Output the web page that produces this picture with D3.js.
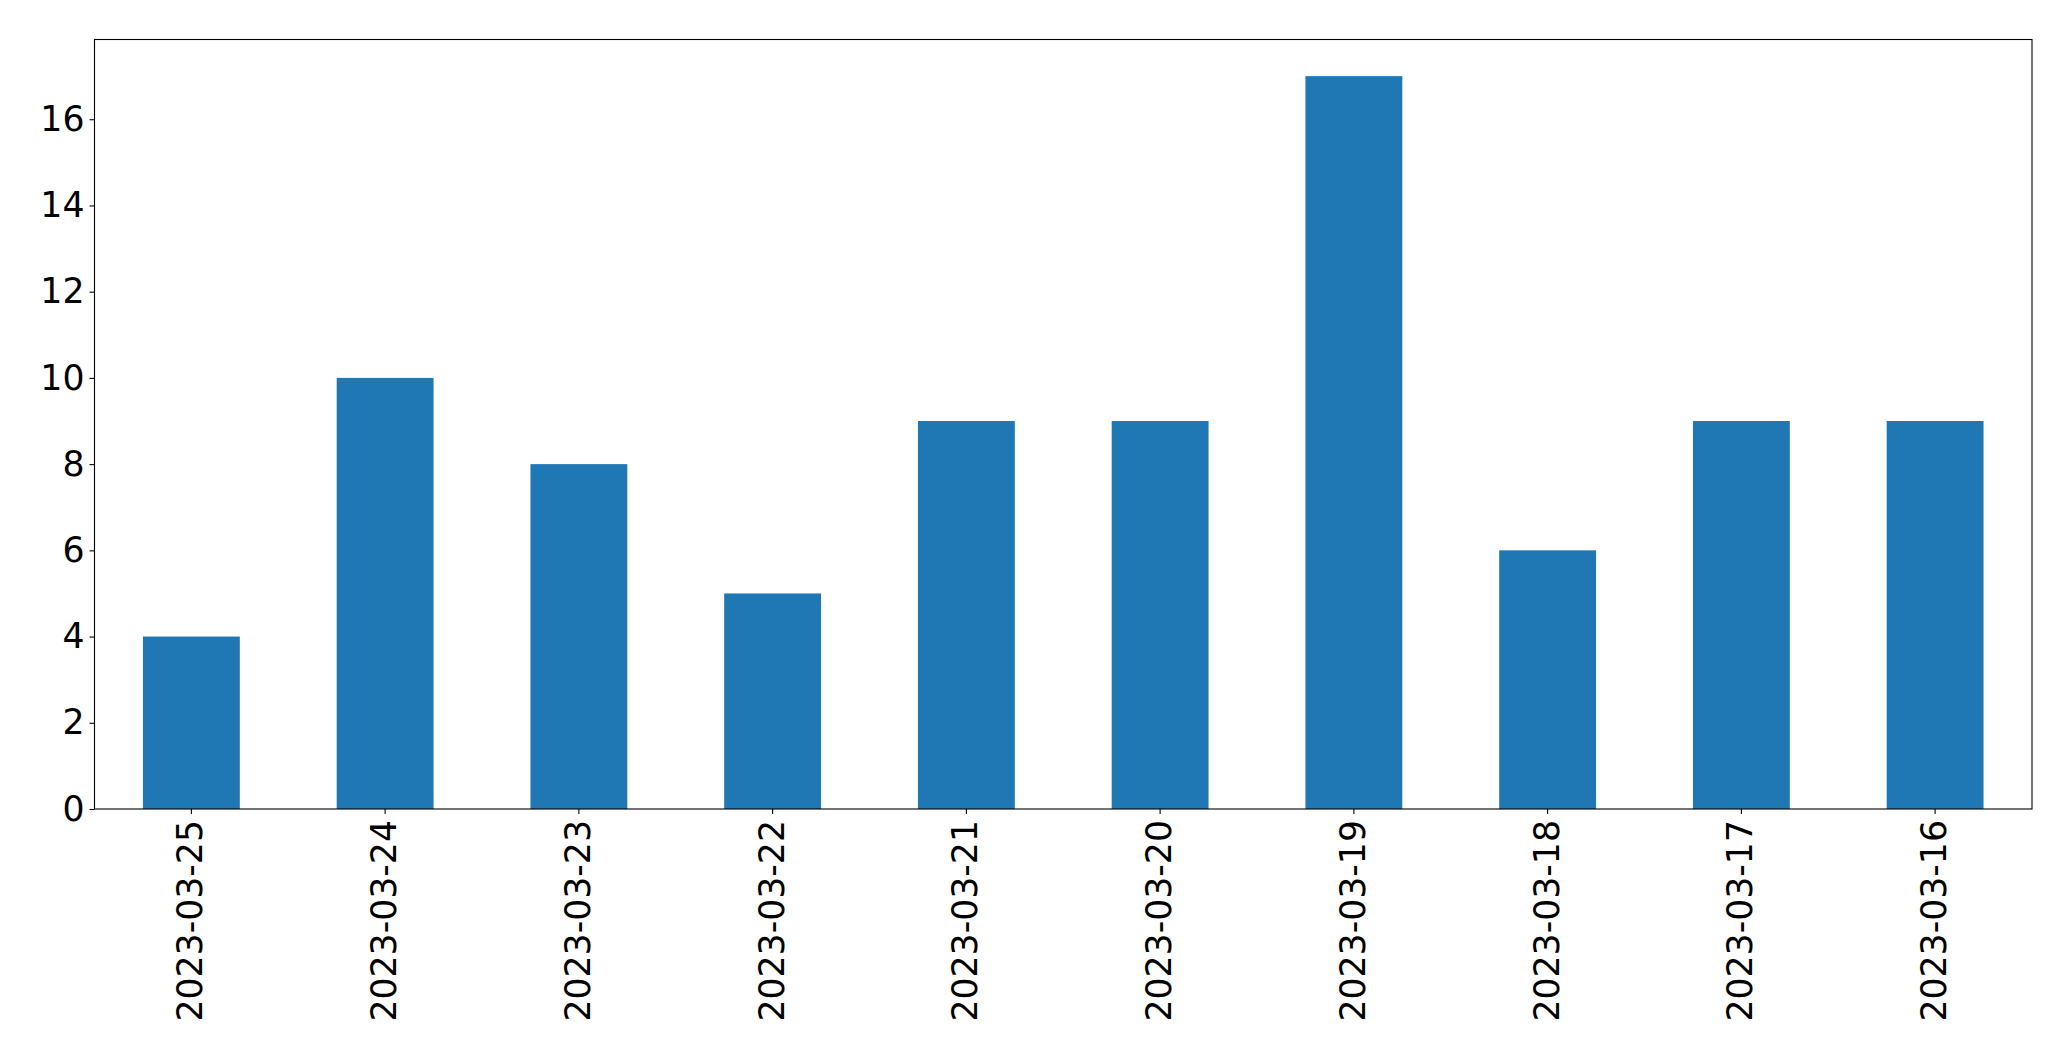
<!DOCTYPE html>
<html>
<head>
<meta charset="utf-8">
<script src="https://cdn.jsdelivr.net/npm/d3@7"></script>
<style>
  body { margin: 0; background: #fff; }
  svg text { font-family: "DejaVu Sans", sans-serif; }
</style>
</head>
<body>
<script>
const dates = ["2023-03-25", "2023-03-24", "2023-03-23", "2023-03-22", "2023-03-21",
               "2023-03-20", "2023-03-19", "2023-03-18", "2023-03-17", "2023-03-16"];
const counts = [4, 10, 8, 5, 9, 9, 17, 6, 9, 9];
const yTicks = [0, 2, 4, 6, 8, 10, 12, 14, 16];

const W = 2071, H = 1061;
const margin = {top: 39.5, right: 39, bottom: 252, left: 94.5};
const width = W - margin.left - margin.right,
      height = H - margin.top - margin.bottom;
const fontSize = "34.7px";

const svg = d3.select("body").append("svg")
    .attr("width", W)
    .attr("height", H);

const g = svg.append("g")
    .attr("transform", `translate(${margin.left},${margin.top})`);

// x: categorical, bars half the band wide (pandas style)
const x = d3.scaleBand()
    .domain(dates)
    .range([0, width])
    .paddingInner(0.5)
    .paddingOuter(0.25);

const y = d3.scaleLinear()
    .domain([0, d3.max(counts) * 1.05])
    .range([height, 0]);

g.selectAll("rect.bar")
  .data(dates)
  .enter().append("rect")
    .attr("class", "bar")
    .attr("x", d => x(d))
    .attr("width", x.bandwidth())
    .attr("y", (d, i) => y(counts[i]))
    .attr("height", (d, i) => height - y(counts[i]))
    .attr("fill", "#1f77b4");

// y axis
const yaxis = g.append("g")
    .call(d3.axisLeft(y).tickValues(yTicks).tickSize(5).tickPadding(5).tickFormat(d3.format("d")));
yaxis.select(".domain").remove();
yaxis.selectAll("text")
    .attr("font-size", fontSize)
    .attr("fill", "#000")
    .attr("font-family", "DejaVu Sans");
yaxis.selectAll("line").attr("stroke", "#000").attr("stroke-width", 1.1);

// x axis
const xaxis = g.append("g")
    .attr("transform", `translate(0,${height})`)
    .call(d3.axisBottom(x).tickSize(5).tickPadding(0));
xaxis.select(".domain").remove();
xaxis.selectAll("line").attr("stroke", "#000").attr("stroke-width", 1.1);
xaxis.selectAll("text")
    .attr("font-size", fontSize)
    .attr("fill", "#000")
    .attr("font-family", "DejaVu Sans")
    .attr("transform", "translate(-1,11) rotate(-90)")
    .attr("x", 0)
    .attr("y", 0)
    .attr("dy", null)
    .attr("dominant-baseline", "central")
    .attr("text-anchor", "end");

// frame
g.append("rect")
    .attr("width", width)
    .attr("height", height)
    .attr("fill", "none")
    .attr("stroke", "#000")
    .attr("stroke-width", 1.1);
</script>
</body>
</html>
